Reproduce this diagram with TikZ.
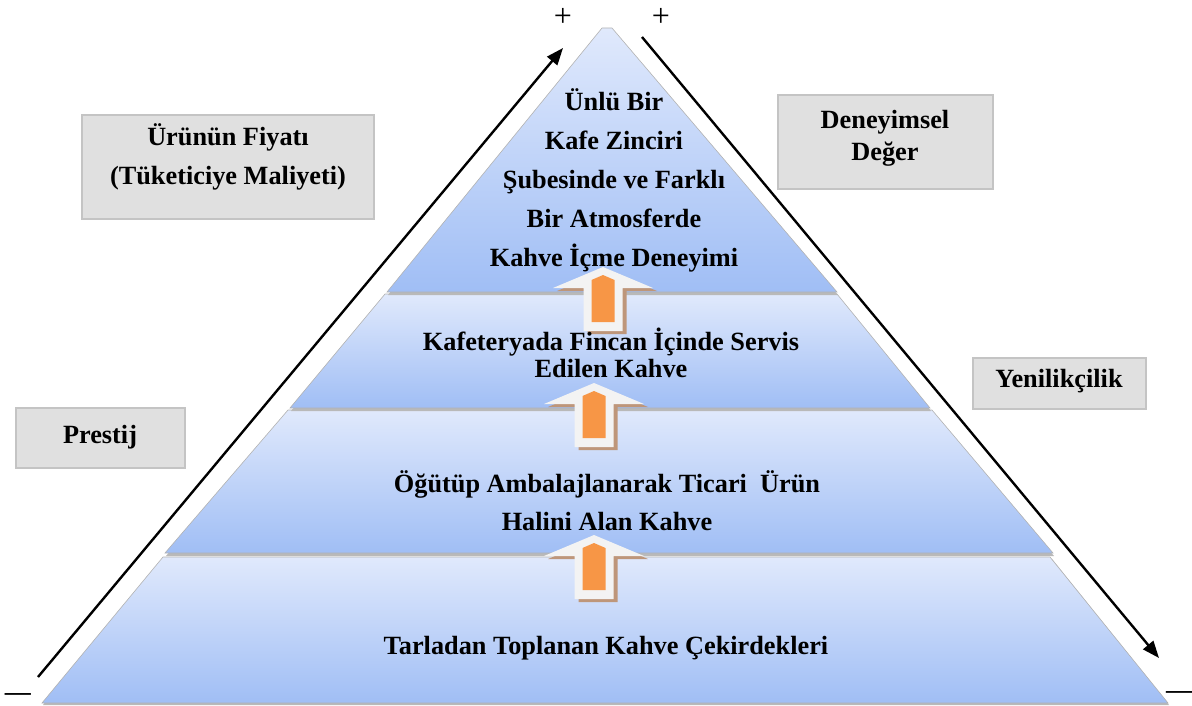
\documentclass[tikz,border=0pt]{standalone}
\usepackage{fontspec}
\setmainfont{Liberation Serif}
\usetikzlibrary{arrows.meta}

\definecolor{tiertop}{RGB}{224,233,252}
\definecolor{tierbot}{RGB}{160,190,245}
\definecolor{boxfill}{RGB}{224,224,224}
\definecolor{boxline}{RGB}{196,196,196}
\definecolor{arrowfill}{RGB}{243,243,243}
\definecolor{arrowshade}{RGB}{190,150,122}
\definecolor{arroworange}{RGB}{247,150,70}

\tikzset{
  tier/.style={top color=tiertop, bottom color=tierbot, draw=gray!60, line width=0.6pt},
  tiershadow/.style={fill=gray!55},
  sidebox/.style={draw=boxline, line width=1.5pt, fill=boxfill, inner sep=0pt},
  tiertext/.style={font=\bfseries\fontsize{26.3}{39}\selectfont, align=center, inner sep=0pt},
  trend/.style={line width=2.4pt, -{Triangle[length=17pt,width=13pt]}},
  signmark/.style={font=\fontsize{32}{34}\selectfont, inner sep=0pt, anchor=base},
}

% block arrow pointing up: #1 = centre x, #2 = tip y
\newcommand{\growarrow}[2]{%
  \begin{scope}[shift={(#1,#2)}]
    \fill[arrowshade] (4,3) -- (54,24) -- (23.5,24) -- (23.5,67) -- (-15.5,67)
      -- (-15.5,24) -- (-46,24) -- cycle;
    \fill[arrowfill] (0,0) -- (50,21) -- (19.5,21) -- (19.5,64) -- (-19.5,64)
      -- (-19.5,21) -- (-50,21) -- cycle;
    \fill[arroworange] (0,8) -- (11.5,13) -- (11.5,55) -- (-11.5,55) -- (-11.5,13) -- cycle;
  \end{scope}}

\begin{document}
\begin{tikzpicture}[x=1pt,y=-1pt]
\path[use as bounding box] (0,0) rectangle (1192,706);

% pyramid tiers, bottom to top
\fill[tiershadow] (43,705) -- (1169,705) -- (1052,559) -- (164,559) -- cycle;
\path[tier] (42,703) -- (1168,703) -- (1050,557) -- (163,557) -- cycle;

\fill[tiershadow] (166,556) -- (1054,556) -- (933,412) -- (289,412) -- cycle;
\path[tier] (165,553) -- (1053,553) -- (932,410) -- (288,410) -- cycle;

\fill[tiershadow] (291,411) -- (931,411) -- (838,296) -- (386,296) -- cycle;
\path[tier] (290,408) -- (930,408) -- (837,294) -- (385,294) -- cycle;

\fill[tiershadow] (388,295) -- (838,295) -- (612,30) -- (603,30) -- cycle;
\path[tier] (387,292) -- (837,292) -- (612,28) -- (602,28) -- cycle;

% growth arrows between the tiers
\growarrow{603}{267}
\growarrow{594}{383}
\growarrow{594}{535}

% tier captions
\node[tiertext] (lvlfour) at (614,180)
  {Ünlü Bir\\Kafe Zinciri\\Şubesinde ve Farklı\\Bir Atmosferde\\Kahve İçme Deneyimi};
\node[tiertext, font=\bfseries\fontsize{26.3}{27}\selectfont] (lvlthree) at (611,353)
  {Kafeteryada Fincan İçinde Servis\\Edilen Kahve};
\node[tiertext, font=\bfseries\fontsize{26.3}{38}\selectfont] (lvltwo) at (607,501)
  {Öğütüp Ambalajlanarak Ticari~~Ürün\\Halini Alan Kahve};
\node[tiertext] (lvlone) at (606,648) {Tarladan Toplanan Kahve Çekirdekleri};

% side boxes
\node[sidebox, minimum width=292pt, minimum height=104pt] (pricebox) at (228,167) {};
\node[tiertext] (price) at (228,157) {Ürünün Fiyatı\\(Tüketiciye Maliyeti)};

\node[sidebox, minimum width=215pt, minimum height=94pt] (valuebox) at (885.5,142) {};
\node[tiertext, font=\bfseries\fontsize{26.3}{32}\selectfont] (value) at (885,138) {Deneyimsel\\Değer};

\node[sidebox, minimum width=173pt, minimum height=51pt] (innovbox) at (1059.5,383.5) {};
\node[tiertext] (innov) at (1059,381) {Yenilikçilik};

\node[sidebox, minimum width=169pt, minimum height=60pt] (prestigebox) at (100.5,438) {};
\node[tiertext] (prestige) at (100,437) {Prestij};

% trend arrows along the sides
\coordinate (leftlow) at (38,677);
\coordinate (lefthigh) at (563,48);
\coordinate (righthigh) at (642,37);
\coordinate (rightlow) at (1159,658);
\draw[trend] (leftlow) -- (lefthigh);
\draw[trend] (righthigh) -- (rightlow);

% plus and minus marks
\node[signmark] (plusleft) at (563,27) {+};
\node[signmark] (plusright) at (661,27) {+};
\node[signmark, font=\bfseries\fontsize{26}{30}\selectfont] (minusleft) at (18,700) {—};
\node[signmark, font=\bfseries\fontsize{26}{30}\selectfont] (minusright) at (1179,698.5) {—};
\end{tikzpicture}
\end{document}
